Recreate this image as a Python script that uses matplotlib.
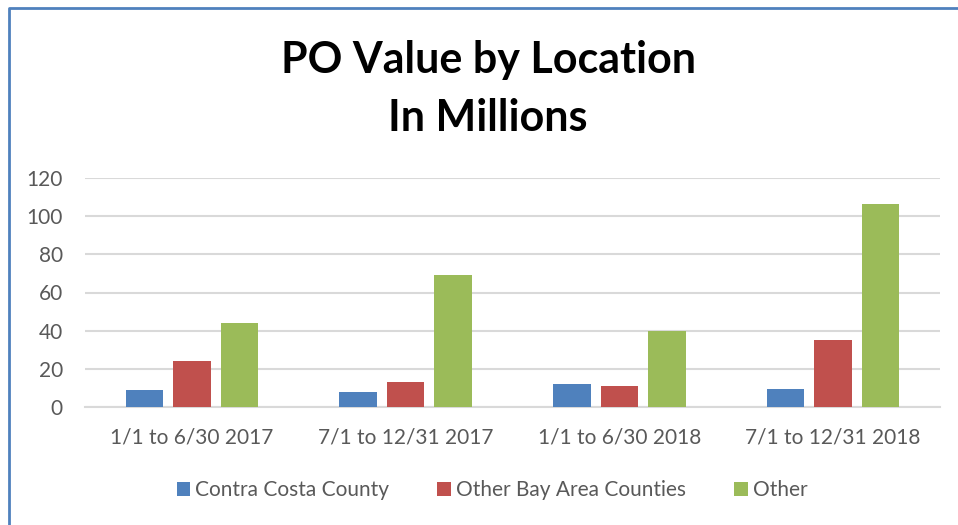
import numpy as np
import matplotlib.pyplot as plt
from matplotlib.lines import Line2D

# --- Data ---
categories = ["1/1 to 6/30 2017", "7/1 to 12/31 2017", "1/1 to 6/30 2018", "7/1 to 12/31 2018"]
contra_costa = [9, 8, 12, 9.5]
other_bay = [24, 13, 11, 35]
other = [44, 69, 40, 106.5]
series_names = ["Contra Costa County", "Other Bay Area Counties", "Other"]
colors = ["#4F81BD", "#C0504D", "#9BBB59"]

plt.rcParams['font.family'] = ['Lato', 'DejaVu Sans']

W, H = 958, 525
fig = plt.figure(figsize=(W / 100, H / 100), dpi=100)
ax = fig.add_axes([85 / W, 1 - 407 / H, (940 - 85) / W, (407 - 178) / H])

x = np.arange(len(categories))
width = 0.175
offset = 0.222
for i, (vals, name) in enumerate(zip([contra_costa, other_bay, other], series_names)):
    ax.bar(x + (i - 1) * offset, vals, width, color=colors[i], label=name, zorder=3)

ax.set_xlim(-0.5, len(categories) - 0.5)
ax.set_ylim(0, 120)
ax.set_yticks(np.arange(0, 121, 20))
ax.set_xticks(x)
ax.set_xticklabels(categories)
ax.tick_params(axis='both', length=0, labelsize=15, labelcolor='#595959')
ax.tick_params(axis='x', pad=15)
ax.tick_params(axis='y', pad=16)
ax.grid(axis='y', color='#d9d9d9', linewidth=1.5, zorder=0)
for s in ['top', 'right', 'left']:
    ax.spines[s].set_visible(False)
ax.spines['bottom'].set_color('#d9d9d9')
ax.spines['bottom'].set_linewidth(1.5)

fig.text(488 / W, 1 - 60 / H, "PO Value by Location", ha='center', va='center',
         fontsize=31, fontweight='bold', color='black')
fig.text(488 / W, 1 - 118 / H, "In Millions", ha='center', va='center',
         fontsize=31, fontweight='bold', color='black')

fig.legend(loc='center', bbox_to_anchor=(492 / W, 1 - 490 / H), ncol=3, frameon=False,
           fontsize=15, labelcolor='#595959', handlelength=0.65, handleheight=0.65,
           handletextpad=0.25, columnspacing=2.3)

# chart frame (blue border on top and left)
fig.add_artist(Line2D([9 / W, 9 / W, 1], [0, 1 - 8 / H, 1 - 8 / H],
                      transform=fig.transFigure, color='#4F81BD', linewidth=2))

fig.savefig("out.png", dpi=100)
